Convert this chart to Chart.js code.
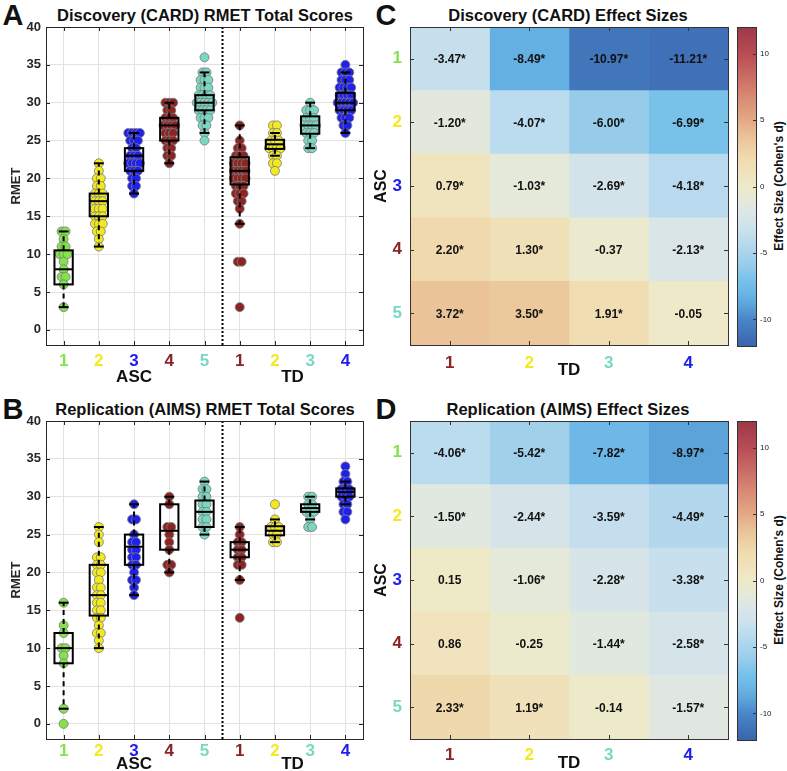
<!DOCTYPE html>
<html>
<head>
<meta charset="utf-8">
<script src="https://cdn.jsdelivr.net/npm/chart.js@4.4.1/dist/chart.umd.min.js"></script>
<style>
body{margin:0;background:#fff;width:787px;height:771px;position:relative;overflow:hidden;font-family:"Liberation Sans",Arial,Helvetica,sans-serif}
canvas{position:absolute}
.t{position:absolute;font-weight:bold;color:#111;white-space:nowrap;transform:translate(-50%,-50%)}
.r{transform:translate(-50%,-50%) rotate(-90deg)}
</style>
</head>
<body>
<div class="t" style="left:13px;top:15px;font-size:29px">A</div>
<div class="t" style="left:205px;top:15px;font-size:16.5px">Discovery (CARD) RMET Total Scores</div>
<div class="t" style="left:13px;top:409px;font-size:29px">B</div>
<div class="t" style="left:205px;top:409px;font-size:16.5px">Replication (AIMS) RMET Total Scores</div>
<div class="t" style="left:386px;top:15px;font-size:29px">C</div>
<div class="t" style="left:568px;top:15px;font-size:16.5px">Discovery (CARD) Effect Sizes</div>
<div class="t" style="left:386px;top:409px;font-size:29px">D</div>
<div class="t" style="left:568px;top:409px;font-size:16.5px">Replication (AIMS) Effect Sizes</div>
<div class="t r" style="left:779px;top:186px;font-size:12px">Effect Size (Cohen's d)</div>
<div class="t r" style="left:779px;top:580px;font-size:12px">Effect Size (Cohen's d)</div>

<canvas id="boxA" width="380" height="390" style="left:0;top:0"></canvas>
<canvas id="boxB" width="380" height="390" style="left:0;top:394px"></canvas>
<canvas id="heatC" width="370" height="390" style="left:365px;top:0"></canvas>
<canvas id="heatD" width="370" height="390" style="left:365px;top:394px"></canvas>
<canvas id="cbC" width="52" height="390" style="left:735px;top:0"></canvas>
<canvas id="cbD" width="52" height="390" style="left:735px;top:394px"></canvas>

<script>
// RMET subgroup figure: box plots (A, B) + effect size grids (C, D)
const FONT = '"Liberation Sans", Arial, Helvetica, sans-serif';
Chart.defaults.font.family = FONT;
Chart.defaults.animation = false;

const GREEN = '#84e24a', YELLOW = '#f2ea1e', BLUE = '#2020ee', RED = '#8c2424', AQUA = '#7ad8c2';

// x positions: ASC 1-5 then TD 1-4
const groupLabels = ['1', '2', '3', '4', '5', '1', '2', '3', '4'];
const groupColors = [GREEN, YELLOW, BLUE, RED, AQUA, RED, YELLOW, AQUA, BLUE];
const rmetTicks = [0, 5, 10, 15, 20, 25, 30, 35, 40];

// ---- discovery (CARD) scores
const cardASC1 = [13, 13, 12, 11, 11, 10, 10, 10, 9, 8, 7, 7, 6, 3];
const cardASC2 = [22, 21, 20, 20, 19, 19, 18, 18, 18, 17, 17, 17, 16, 16, 16, 15, 15, 15, 14, 14, 14, 13, 13, 12, 11];
const cardASC3 = [26, 26, 26, 26, 25, 25, 25, 24, 24, 23, 23, 23, 22, 22, 22, 22, 21, 21, 21, 20, 20, 19, 19, 18];
const cardASC4 = [30, 30, 30, 29, 29, 28, 28, 28, 27, 27, 27, 27, 26, 26, 26, 25, 25, 25, 24, 24, 23, 23, 22];
const cardASC5 = [36, 34, 34, 33, 33, 33, 32, 32, 32, 31, 31, 31, 31, 30, 30, 30, 30, 30, 29, 29, 29, 29, 28, 28, 28, 27, 27, 26, 25];
const cardTD1 = [27, 25, 24, 24, 23, 23, 23, 22, 22, 22, 22, 21, 21, 21, 21, 20, 20, 20, 20, 19, 19, 19, 18, 18, 18, 17, 17, 16, 14, 9, 9, 3];
const cardTD2 = [27, 27, 26, 26, 25, 25, 25, 24, 24, 24, 24, 23, 23, 22, 22, 21];
const cardTD3 = [30, 29, 29, 29, 28, 28, 28, 27, 27, 27, 27, 26, 26, 26, 25, 25, 24, 24];
const cardTD4 = [35, 34, 34, 34, 33, 33, 33, 32, 32, 32, 32, 31, 31, 31, 31, 30, 30, 30, 30, 30, 29, 29, 29, 29, 28, 28, 28, 27, 27, 26];
const cardQ1 = [6, 15, 21, 25, 29, 19.2, 23.9, 25.9, 29];
const cardMed = [8, 17, 23, 27, 30, 21, 24.5, 27, 30];
const cardQ3 = [10.5, 18, 24, 28, 31, 22.8, 25.1, 28.2, 31.3];
const cardLo = [3, 11, 18, 22, 26, 14, 23, 24, 26];
const cardHi = [13, 22, 26, 30, 34, 27, 26, 30, 34];

// ---- replication (AIMS) scores
const aimsASC1 = [16, 13, 12, 10, 10, 9, 8, 2, 0];
const aimsASC2 = [26, 25, 24, 22, 22, 21, 21, 20, 20, 19, 18, 18, 17, 17, 16, 16, 15, 15, 14, 14, 13, 12, 12, 11, 10];
const aimsASC3 = [29, 27, 27, 25, 24, 24, 23, 23, 22, 22, 21, 21, 20, 19, 19, 18, 17];
const aimsASC4 = [30, 29, 26, 26, 25, 24, 23, 21, 21, 20];
const aimsASC5 = [32, 31, 31, 30, 30, 29, 29, 28, 28, 27, 27, 26, 26, 25];
const aimsTD1 = [26, 25, 24, 24, 23, 23, 22, 22, 21, 21, 19, 14];
const aimsTD2 = [29, 27, 26, 26, 26, 25, 25, 24, 24];
const aimsTD3 = [30, 30, 29, 29, 28, 28, 28, 27, 26, 26];
const aimsTD4 = [34, 33, 32, 32, 31, 31, 31, 30, 30, 30, 29, 29, 28, 28, 27];
const aimsQ1 = [8, 14.3, 21, 23, 26, 22, 24.9, 28, 30];
const aimsMed = [10, 17, 23.4, 25.5, 28, 23, 25.5, 28.5, 30.6];
const aimsQ3 = [12, 21, 25, 29, 29.5, 24, 26.1, 29, 31.1];
const aimsLo = [2, 10, 17, 20, 25, 19, 24, 27, 29];
const aimsHi = [16, 26, 29, 30, 32, 26, 27, 30, 32];

// ---- effect sizes (rows ASC 1-5, cols TD 1-4)
const ascLabels = ['1', '2', '3', '4', '5'];
const tdLabels = ['1', '2', '3', '4'];
const ascColors = [GREEN, YELLOW, BLUE, RED, AQUA];
const tdColors = [RED, YELLOW, AQUA, BLUE];
const cardD = [
  [-3.47, -8.49, -10.97, -11.21],
  [-1.20, -4.07, -6.00, -6.99],
  [0.79, -1.03, -2.69, -4.18],
  [2.20, 1.30, -0.37, -2.13],
  [3.72, 3.50, 1.91, -0.05],
];
const cardSig = [[1, 1, 1, 1], [1, 1, 1, 1], [1, 1, 1, 1], [1, 1, 0, 1], [1, 1, 1, 0]];
const aimsD = [
  [-4.06, -5.42, -7.82, -8.97],
  [-1.50, -2.44, -3.59, -4.49],
  [0.15, -1.06, -2.28, -3.38],
  [0.86, -0.25, -1.44, -2.58],
  [2.33, 1.19, -0.14, -1.57],
];
const aimsSig = [[1, 1, 1, 1], [1, 1, 1, 1], [0, 1, 1, 1], [0, 0, 1, 1], [1, 1, 0, 1]];
const cbTicks = [-10, -5, 0, 5, 10];

// diverging colour scale, blue -> cream -> red
const cmapStops = [
  [-12, '#3a64ae'], [-10, '#4a86c8'], [-8.5, '#64b0e2'], [-7, '#78c2ea'], [-6, '#96cbea'],
  [-4, '#bcdcee'], [-3, '#cfe2ec'], [-2, '#dbe6e6'], [-1, '#e5e9d9'], [0, '#eeeac8'],
  [1, '#f0e2bc'], [2, '#f0dcb0'], [3.5, '#ebc99c'], [5, '#e3a984'], [7, '#d78472'],
  [10, '#b84c54'], [12, '#9c3848'],
];
const hex = (h) => [1, 3, 5].map((i) => parseInt(h.substr(i, 2), 16));
function cmap(v) {
  let i = 0;
  while (i < cmapStops.length - 2 && v > cmapStops[i + 1][0]) i++;
  const [v0, c0] = cmapStops[i], [v1, c1] = cmapStops[i + 1];
  const t = Math.max(0, Math.min(1, (v - v0) / (v1 - v0)));
  const a = hex(c0), b = hex(c1);
  return `rgb(${a.map((x, k) => Math.round(x + (b[k] - x) * t)).join(',')})`;
}

// spread tied scores sideways so they don't sit on top of each other
function swarm(vals, step) {
  const cnt = {}, seen = {};
  vals.forEach((v) => (cnt[v] = (cnt[v] || 0) + 1));
  return vals.map((v) => {
    seen[v] = seen[v] === undefined ? 0 : seen[v] + 1;
    return (seen[v] - (cnt[v] - 1) / 2) * step;
  });
}

function frame(ctx, a, col) {
  ctx.strokeStyle = col; ctx.lineWidth = 1;
  ctx.strokeRect(Math.round(a.left) + 0.5, Math.round(a.top) + 0.5, Math.round(a.right - a.left), Math.round(a.bottom - a.top));
}

const boxPlugin = {
  id: 'boxes',
  beforeDatasetsDraw(chart) {
    const { ctx, chartArea: a, scales: { x } } = chart;
    const sx = Math.round(x.getPixelForValue(5.5)) + 0.5;
    ctx.save();
    ctx.strokeStyle = '#000'; ctx.lineWidth = 2; ctx.setLineDash([2, 2]);
    ctx.beginPath(); ctx.moveTo(sx, a.top); ctx.lineTo(sx, a.bottom); ctx.stroke();
    ctx.restore();
  },
  afterDatasetsDraw(chart, args, st) {
    const { ctx, scales: { x, y } } = chart;
    const ln = (x0, y0, x1, y1) => { ctx.beginPath(); ctx.moveTo(x0, y0); ctx.lineTo(x1, y1); ctx.stroke(); };
    ctx.save();
    ctx.strokeStyle = '#000'; ctx.lineWidth = 2;
    st.med.forEach((m, i) => {
      const c = i + 1;
      const xc = x.getPixelForValue(c), xl = x.getPixelForValue(c - 0.26), xr = x.getPixelForValue(c + 0.26);
      const cl = x.getPixelForValue(c - 0.14), cr = x.getPixelForValue(c + 0.14);
      ctx.setLineDash([5, 4]);
      ln(xc, y.getPixelForValue(st.q3[i]), xc, y.getPixelForValue(st.hi[i]));
      ln(xc, y.getPixelForValue(st.q1[i]), xc, y.getPixelForValue(st.lo[i]));
      ctx.setLineDash([]);
      ln(cl, y.getPixelForValue(st.hi[i]), cr, y.getPixelForValue(st.hi[i]));
      ln(cl, y.getPixelForValue(st.lo[i]), cr, y.getPixelForValue(st.lo[i]));
      const t = y.getPixelForValue(st.q3[i]), b = y.getPixelForValue(st.q1[i]);
      ctx.strokeRect(xl, t, xr - xl, b - t);
      ln(xl, y.getPixelForValue(m), xr, y.getPixelForValue(m));
    });
    ctx.restore();
  },
  afterDraw(chart, args, st) {
    const { ctx, chartArea: a, scales: { x, y } } = chart;
    ctx.save();
    frame(ctx, a, '#262626');
    ctx.beginPath();
    rmetTicks.forEach((v) => {
      const py = Math.round(y.getPixelForValue(v)) + 0.5;
      ctx.moveTo(a.left, py); ctx.lineTo(a.left + 4, py);
      ctx.moveTo(a.right, py); ctx.lineTo(a.right - 4, py);
    });
    groupLabels.forEach((_, i) => {
      const px = Math.round(x.getPixelForValue(i + 1)) + 0.5;
      ctx.moveTo(px, a.bottom); ctx.lineTo(px, a.bottom - 4);
      ctx.moveTo(px, a.top); ctx.lineTo(px, a.top + 4);
    });
    ctx.stroke();
    ctx.fillStyle = '#111'; ctx.font = `bold 17px ${FONT}`;
    ctx.textAlign = 'center'; ctx.textBaseline = 'middle';
    ctx.fillText('ASC', x.getPixelForValue(3), a.bottom + st.groupGap);
    ctx.fillText('TD', x.getPixelForValue(7.5), a.bottom + st.groupGap);
    ctx.restore();
  },
};

function boxChart(id, groups, st, tickPad) {
  const datasets = groups.map((vals, i) => {
    const off = swarm(vals, 0.11);
    return {
      data: vals.map((v, j) => ({ x: i + 1 + off[j], y: v })),
      backgroundColor: groupColors[i], borderColor: 'rgba(125,125,125,0.85)',
      borderWidth: 1, pointRadius: 4.5,
    };
  });
  return new Chart(document.getElementById(id), {
    type: 'scatter',
    data: { datasets },
    options: {
      responsive: false, animation: false,
      layout: { padding: { left: 0, right: 17, top: 27, bottom: 0 } },
      plugins: { legend: { display: false }, tooltip: { enabled: false }, boxes: st },
      scales: {
        x: {
          type: 'linear', min: 0.5, max: 9.5,
          afterBuildTicks: (s) => { s.ticks = groupLabels.map((_, i) => ({ value: i + 1 })); },
          afterFit: (s) => { s.height = 45; },
          ticks: { callback: (v, i) => groupLabels[i], color: (c) => groupColors[c.index], font: { size: 17, weight: 'bold' }, padding: tickPad, maxRotation: 0, autoSkip: false },
          grid: { color: '#e2e2e2', drawTicks: false }, border: { display: false },
        },
        y: {
          min: -2, max: 40,
          afterBuildTicks: (s) => { s.ticks = rmetTicks.map((v) => ({ value: v })); },
          afterFit: (s) => { s.width = 46; },
          ticks: { color: '#262626', font: { size: 13, weight: 'bold' }, padding: 5 },
          grid: { color: '#e2e2e2', drawTicks: false }, border: { display: false },
          title: { display: true, text: 'RMET', color: '#262626', font: { size: 13, weight: 'bold' }, padding: { top: 9, bottom: 0 } },
        },
      },
    },
    plugins: [boxPlugin],
  });
}

const heatPlugin = {
  id: 'cells',
  afterDatasetsDraw(chart, args, o) {
    const { ctx, chartArea: a, scales: { x, y } } = chart;
    ctx.save();
    ctx.fillStyle = '#111'; ctx.font = `bold 12px ${FONT}`;
    ctx.textAlign = 'center'; ctx.textBaseline = 'middle';
    o.vals.forEach((row, r) => row.forEach((v, c) => {
      ctx.fillText(v.toFixed(2) + (o.sig[r][c] ? '*' : ''), x.getPixelForValue(c + 1), y.getPixelForValue(r) + 1);
    }));
    frame(ctx, a, '#333');
    ctx.beginPath();
    ascLabels.forEach((_, r) => {
      const py = Math.round(y.getPixelForValue(r)) + 0.5;
      ctx.moveTo(a.left, py); ctx.lineTo(a.left + 4, py);
      ctx.moveTo(a.right, py); ctx.lineTo(a.right - 4, py);
    });
    tdLabels.forEach((_, c) => {
      const px = Math.round(x.getPixelForValue(c + 1)) + 0.5;
      ctx.moveTo(px, a.top); ctx.lineTo(px, a.top + 4);
      ctx.moveTo(px, a.bottom); ctx.lineTo(px, a.bottom - 4);
    });
    ctx.stroke();
    ctx.fillStyle = '#111'; ctx.font = `bold 17px ${FONT}`;
    ctx.fillText('TD', (a.left + a.right) / 2, a.bottom + o.tdGap);
    ctx.restore();
  },
};

function heatChart(id, vals, sig, tickPad, tdGap) {
  const datasets = tdLabels.map((_, c) => ({
    data: ascLabels.map(() => [c + 0.5, c + 1.5]),
    backgroundColor: vals.map((row) => cmap(row[c])),
    grouped: false, barPercentage: 1, categoryPercentage: 1, borderWidth: 0,
  }));
  return new Chart(document.getElementById(id), {
    type: 'bar',
    data: { labels: ascLabels, datasets },
    options: {
      indexAxis: 'y', responsive: false, animation: false,
      layout: { padding: { left: 0, right: 7, top: 27, bottom: 0 } },
      plugins: { legend: { display: false }, tooltip: { enabled: false }, cells: { vals, sig, tdGap } },
      scales: {
        x: {
          type: 'linear', min: 0.5, max: 4.5,
          afterBuildTicks: (s) => { s.ticks = tdLabels.map((_, i) => ({ value: i + 1 })); },
          afterFit: (s) => { s.height = 45; },
          ticks: { callback: (v, i) => tdLabels[i], color: (c) => tdColors[c.index], font: { size: 17, weight: 'bold' }, padding: tickPad, maxRotation: 0, autoSkip: false },
          grid: { display: false, drawTicks: false }, border: { display: false },
        },
        y: {
          afterFit: (s) => { s.width = 45; },
          ticks: { color: (c) => ascColors[c.index], font: { size: 17, weight: 'bold' }, padding: 8 },
          grid: { display: false, drawTicks: false }, border: { display: false },
          title: { display: true, text: 'ASC', color: '#111', font: { size: 16, weight: 'bold' }, padding: { top: 7, bottom: 0 } },
        },
      },
    },
    plugins: [heatPlugin],
  });
}

const cbPlugin = {
  id: 'cbframe',
  afterDraw(chart) {
    const { ctx, chartArea: a, scales: { y } } = chart;
    ctx.save();
    frame(ctx, a, '#333');
    ctx.beginPath();
    cbTicks.forEach((v) => {
      const py = Math.round(y.getPixelForValue(v)) + 0.5;
      ctx.moveTo(a.right, py); ctx.lineTo(a.right - 3, py);
    });
    ctx.stroke();
    ctx.restore();
  },
};

function colorbar(id) {
  return new Chart(document.getElementById(id), {
    type: 'bar',
    data: {
      labels: [''],
      datasets: [{
        data: [[-12, 12]], barPercentage: 1, categoryPercentage: 1, borderWidth: 0,
        backgroundColor: (c) => {
          const ch = c.chart, ys = ch.scales.y;
          if (!ch.chartArea || !ys) return cmap(0);
          const g = ch.ctx.createLinearGradient(0, ys.getPixelForValue(-12), 0, ys.getPixelForValue(12));
          for (let v = -12; v <= 12; v++) g.addColorStop((v + 12) / 24, cmap(v));
          return g;
        },
      }],
    },
    options: {
      responsive: false, animation: false,
      layout: { padding: { left: 2, right: 0, top: 27, bottom: 44 } },
      plugins: { legend: { display: false }, tooltip: { enabled: false } },
      scales: {
        x: { display: false },
        y: {
          position: 'right', min: -12, max: 12,
          afterBuildTicks: (s) => { s.ticks = cbTicks.map((v) => ({ value: v })); },
          afterFit: (s) => { s.width = 31; },
          ticks: { color: '#222', font: { size: 8 }, padding: 4 },
          grid: { display: false, drawTicks: false }, border: { display: false },
        },
      },
    },
    plugins: [cbPlugin],
  });
}

boxChart('boxA', [cardASC1, cardASC2, cardASC3, cardASC4, cardASC5, cardTD1, cardTD2, cardTD3, cardTD4],
  { q1: cardQ1, med: cardMed, q3: cardQ3, lo: cardLo, hi: cardHi, groupGap: 32 }, 6);
boxChart('boxB', [aimsASC1, aimsASC2, aimsASC3, aimsASC4, aimsASC5, aimsTD1, aimsTD2, aimsTD3, aimsTD4],
  { q1: aimsQ1, med: aimsMed, q3: aimsQ3, lo: aimsLo, hi: aimsHi, groupGap: 25 }, 2);
heatChart('heatC', cardD, cardSig, 8, 25);
heatChart('heatD', aimsD, aimsSig, 6, 24);
colorbar('cbC');
colorbar('cbD');
</script>
</body>
</html>
